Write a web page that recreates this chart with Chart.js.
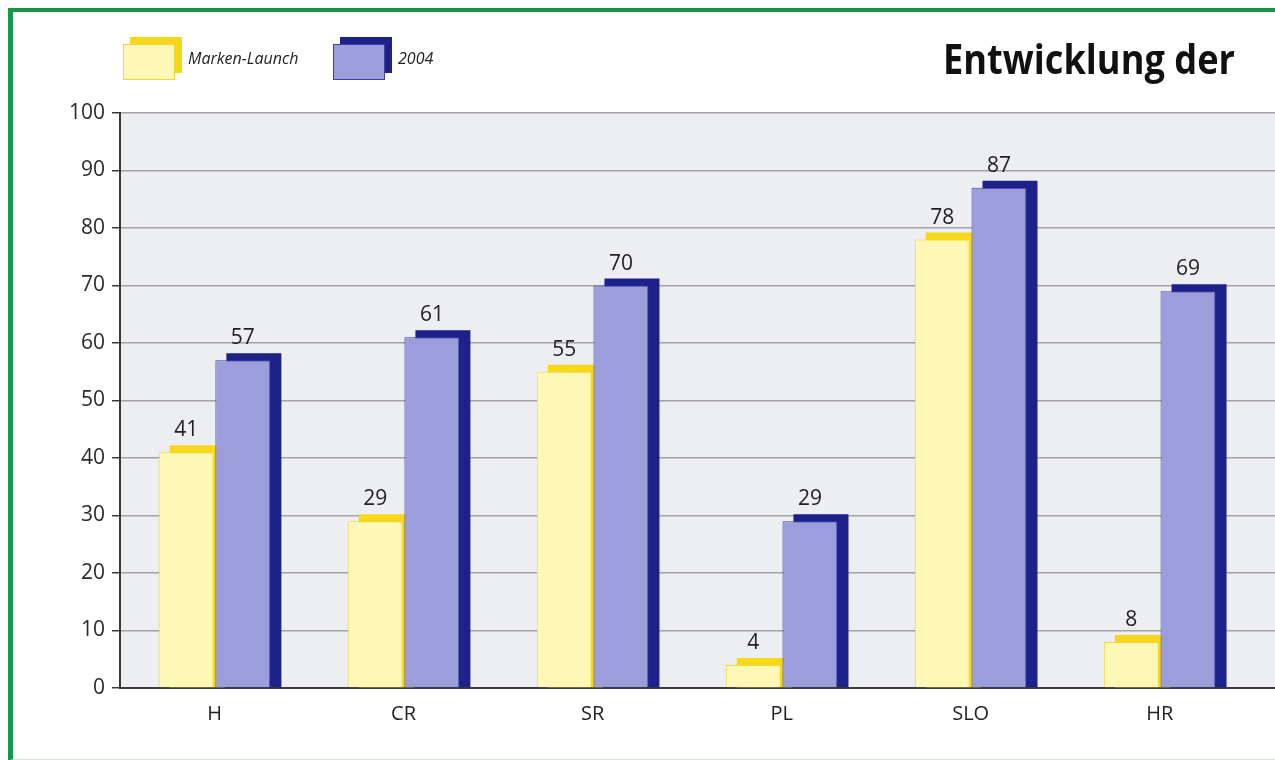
<!DOCTYPE html>
<html>
<head>
<meta charset="utf-8">
<script src="https://cdn.jsdelivr.net/npm/chart.js@4.4.1/dist/chart.umd.min.js"></script>
<style>
  html, body { margin: 0; padding: 0; background: #fff; overflow: hidden; }
  #wrap { position: relative; width: 1275px; height: 760px; }
  #chart { position: absolute; left: 0; top: 0; }
  #frame {
    position: absolute; left: 8px; top: 8px; width: 1300px; height: 747px;
    border-left: 5px solid #15984a; border-top: 4px solid #15984a;
    border-bottom: 2px solid #c6ead2; pointer-events: none;
  }
</style>
</head>
<body>
<div id="wrap">
  <canvas id="chart" width="1275" height="760"></canvas>
  <div id="frame"></div>
</div>
<script>
// Markets and survey values (percent)
const categories = ['H', 'CR', 'SR', 'PL', 'SLO', 'HR'];
const launchValues = [41, 29, 55, 4, 78, 8];
const values2004 = [57, 61, 70, 29, 87, 69];
const seriesNames = ['Marken-Launch', '2004'];
const yMin = 0, yMax = 100, yStep = 10;
const titleText = 'Entwicklung der';

const FONT = '"Open Sans", "DejaVu Sans", sans-serif';
const faceColors = ['#fff7b6', '#9c9edc'];
const edgeColors = ['#eed63c', '#3d42a0'];
const backColors = ['#f6d818', '#1d2189'];
const DEPTH_X = 11, DEPTH_Y = 7;

// light plot background
const plotBackground = {
  id: 'plotBackground',
  beforeDraw(chart) {
    const { ctx, chartArea: a } = chart;
    ctx.save();
    ctx.fillStyle = '#ffffff';
    ctx.fillRect(0, 0, chart.width, chart.height);
    ctx.fillStyle = '#eceef1';
    ctx.fillRect(a.left, a.top, a.right - a.left, a.bottom - a.top);
    ctx.restore();
  }
};

// darker offset face behind every bar, giving the 3D look
const barDepth = {
  id: 'barDepth',
  beforeDatasetsDraw(chart) {
    const ctx = chart.ctx;
    ctx.save();
    chart.data.datasets.forEach((ds, di) => {
      const meta = chart.getDatasetMeta(di);
      ctx.fillStyle = backColors[di];
      meta.data.forEach(el => {
        const p = el.getProps(['x', 'y', 'base', 'width'], true);
        const left = p.x - p.width / 2 + DEPTH_X;
        const top = p.y - DEPTH_Y;
        ctx.fillRect(left, top, p.width, p.base - top);
      });
    });
    ctx.restore();
  }
};

// value labels above each bar
const valueLabels = {
  id: 'valueLabels',
  afterDatasetsDraw(chart) {
    const ctx = chart.ctx;
    ctx.save();
    ctx.font = '21px ' + FONT;
    ctx.fillStyle = '#222';
    ctx.textAlign = 'center';
    ctx.textBaseline = 'alphabetic';
    chart.data.datasets.forEach((ds, di) => {
      const meta = chart.getDatasetMeta(di);
      meta.data.forEach((el, i) => {
        const p = el.getProps(['x', 'y'], true);
        ctx.fillText(String(ds.data[i].y), p.x, p.y - 16);
      });
    });
    ctx.restore();
  }
};

// legend with 3D swatches and the heading on the right
const header = {
  id: 'header',
  afterDraw(chart) {
    const ctx = chart.ctx;
    ctx.save();
    const items = [
      { x: 123, textX: 188 },
      { x: 333, textX: 398 }
    ];
    items.forEach((it, i) => {
      ctx.fillStyle = backColors[i];
      ctx.fillRect(it.x + 7, 37, 52, 36);
      ctx.fillStyle = faceColors[i];
      ctx.fillRect(it.x, 44, 52, 36);
      ctx.strokeStyle = edgeColors[i];
      ctx.lineWidth = 1;
      ctx.strokeRect(it.x + 0.5, 44.5, 51, 35);
      ctx.fillStyle = '#222';
      ctx.font = 'italic 16px ' + FONT;
      ctx.textBaseline = 'middle';
      ctx.textAlign = 'left';
      ctx.fillText(seriesNames[i], it.textX, 59);
    });
    ctx.fillStyle = '#111';
    ctx.font = 'bold 42px ' + FONT;
    ctx.textBaseline = 'alphabetic';
    ctx.textAlign = 'left';
    ctx.fillText(titleText, 943, 74, 292);
    ctx.restore();
  }
};

const makeSeries = (vals, di) => ({
  label: seriesNames[di],
  data: vals.map((v, i) => ({ x: i, y: v })),
  backgroundColor: faceColors[di],
  borderColor: edgeColors[di],
  borderWidth: 1,
  categoryPercentage: 0.6,
  barPercentage: 0.97
});

new Chart(document.getElementById('chart'), {
  type: 'bar',
  data: {
    datasets: [makeSeries(launchValues, 0), makeSeries(values2004, 1)]
  },
  options: {
    responsive: false,
    animation: false,
    devicePixelRatio: 1,
    layout: { padding: { top: 113, left: 0, right: 0, bottom: 0 } },
    plugins: { legend: { display: false }, tooltip: { enabled: false }, title: { display: false } },
    scales: {
      x: {
        type: 'linear',
        min: -0.5,
        max: 5.61,
        offset: false,
        afterBuildTicks(scale) { scale.ticks = categories.map((_, i) => ({ value: i })); },
        afterFit(scale) { scale.height = 72; },
        grid: { display: false, drawTicks: false },
        border: { display: true, color: '#3a3a3a', width: 2 },
        ticks: {
          autoSkip: false,
          maxRotation: 0,
          padding: 14,
          color: '#222',
          font: { family: FONT, size: 20 },
          callback: v => categories[v] ?? ''
        }
      },
      y: {
        min: yMin,
        max: yMax,
        afterFit(scale) { scale.width = 120; },
        grid: { color: '#a2a2a2', lineWidth: 1.5, tickColor: '#3a3a3a', tickLength: 8 },
        border: { display: true, color: '#3a3a3a', width: 2 },
        ticks: {
          stepSize: yStep,
          padding: 7,
          color: '#2a2a2a',
          font: { family: FONT, size: 21 }
        }
      }
    }
  },
  plugins: [plotBackground, barDepth, valueLabels, header]
});
</script>
</body>
</html>
